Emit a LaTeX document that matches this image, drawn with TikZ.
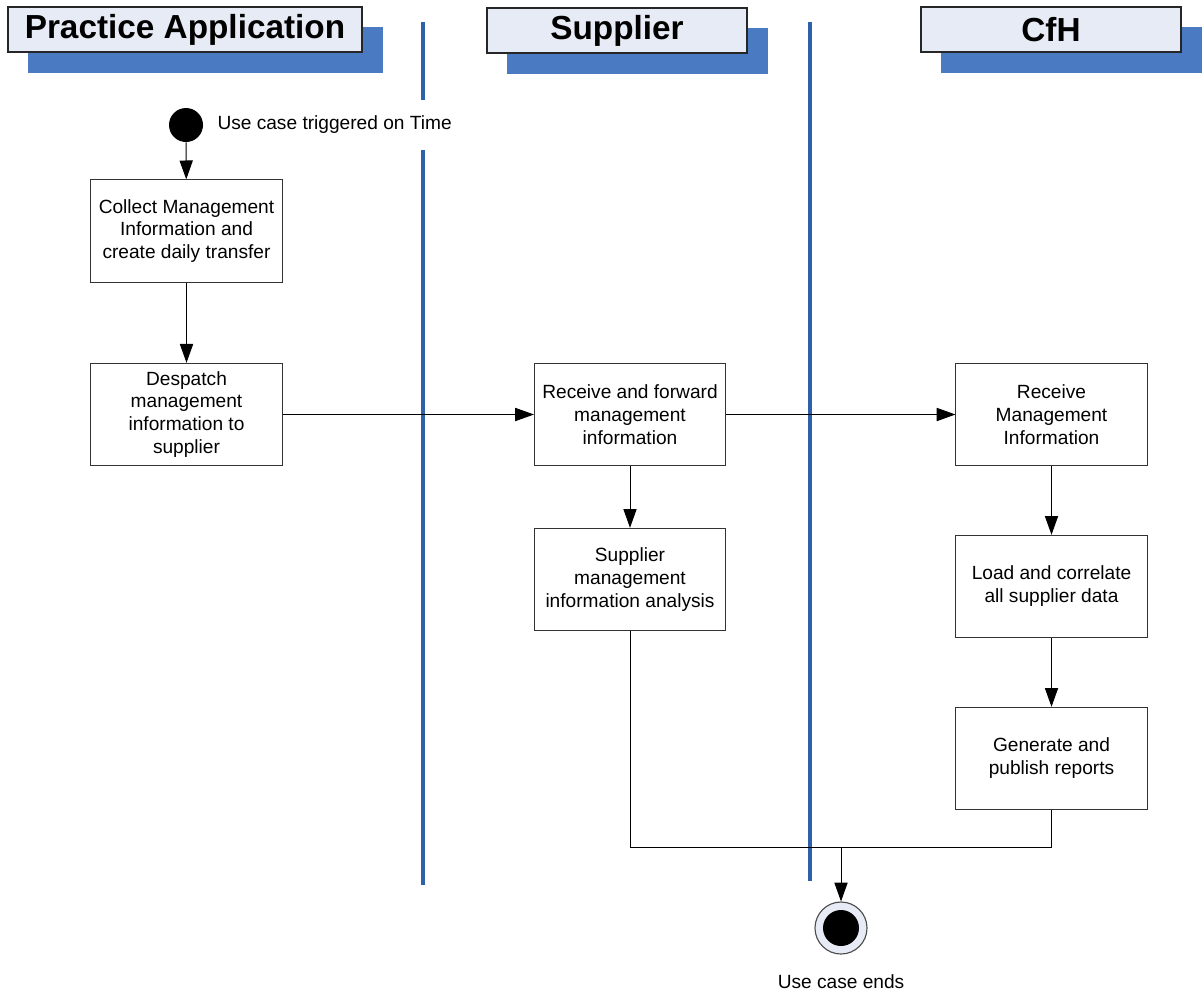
\documentclass[tikz,border=0pt]{standalone}
\usepackage{fontspec}
\setmainfont{Liberation Sans}
\usepackage{tikz}
\usetikzlibrary{arrows.meta}
\usepackage{xcolor}

\definecolor{lanefill}{RGB}{230,235,245}
\definecolor{shadowblue}{RGB}{74,122,193}
\definecolor{laneline}{RGB}{47,97,170}

\tikzset{
  actbox/.style={draw=black!80,line width=0.7pt,fill=white,minimum width=4.775cm,
    minimum height=2.56cm,align=center,font=\fontsize{13.6}{16.3}\selectfont},
  lanehead/.style={draw=black!85,line width=0.8pt,fill=lanefill,minimum width=6.5cm,
    minimum height=1.125cm,font=\fontsize{23.7}{26}\selectfont\bfseries},
  lbl/.style={font=\fontsize{13.6}{16.3}\selectfont},
  arr/.style={-{Triangle[length=0.47cm,width=0.33cm]},line width=0.7pt},
  flow/.style={line width=0.7pt}
}

\begin{document}
\begin{tikzpicture}[x=0.025cm,y=-0.025cm]
 \useasboundingbox (0,0) rectangle (1202,994);

 % swimlane headers
 \fill[shadowblue] (28,27) rectangle (383,73);
 \node[lanehead,minimum width=8.85cm] (hpa) at (185,29.5) {Practice Application};
 \fill[shadowblue] (507,28) rectangle (768,74);
 \node[lanehead] (hsup) at (617,30.5) {Supplier};
 \fill[shadowblue] (941,27) rectangle (1202,73);
 \node[lanehead] (hcfh) at (1051,29.5) {CfH};

 % lane separators
 \draw[laneline,line width=2.6pt] (423,22) -- (423,885);
 \draw[laneline,line width=2.6pt] (810,22) -- (810,881);

 % start
 \path[fill=black] (186,125) circle (17);
 \node[circle,minimum size=0.85cm,inner sep=0pt] (start) at (186,125) {};
 \node[lbl,anchor=west,fill=white,minimum height=1.25cm,inner xsep=3pt] (trig) at (213,125) {Use case triggered on Time};

 % activities
 \node[actbox] (collect) at (186.5,231) {Collect Management\\Information and\\create daily transfer};
 \node[actbox] (despatch) at (186.5,414.5) {Despatch\\management\\information to\\supplier};
 \node[actbox] (forward) at (630,414.5) {Receive and forward\\management\\information};
 \node[actbox] (analysis) at (630,579.5) {Supplier\\management\\information analysis};
 \node[actbox] (receive) at (1051.5,414.5) {Receive\\Management\\Information};
 \node[actbox] (load) at (1051.5,586.5) {Load and correlate\\all supplier data};
 \node[actbox] (report) at (1051.5,758.5) {Generate and\\publish reports};

 % end
 \coordinate (join) at (841,847);
 \node[circle,draw=black!70,line width=0.8pt,fill=lanefill,minimum size=1.3cm,inner sep=0pt] (end) at (841,928) {};
 \path[fill=black] (end.center) circle (18);
 \node[lbl] (endlbl) at (841,982) {Use case ends};

 % flows
 \draw[arr] (start) -- (collect);
 \draw[arr] (collect) -- (despatch);
 \draw[arr] (despatch) -- (forward);
 \draw[arr] (forward) -- (receive);
 \draw[arr] (forward) -- (analysis);
 \draw[arr] (receive) -- (load);
 \draw[arr] (load) -- (report);
 \draw[flow] (analysis) |- (join) -| (report);
 \draw[arr] (join) -- (end);
\end{tikzpicture}
\end{document}
